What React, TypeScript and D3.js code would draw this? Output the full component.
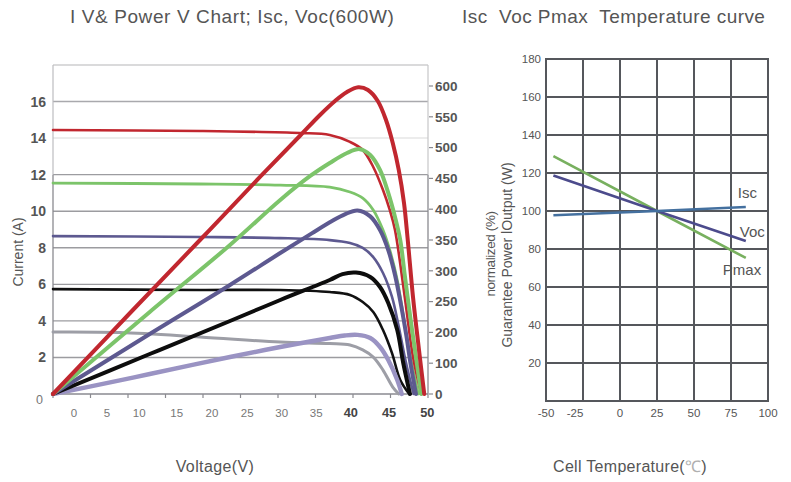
import React from 'react';
import * as d3 from 'd3';

// ---------- LEFT CHART DATA (I-V and P-V curves) ----------
const voltTicks = [0, 5, 10, 15, 20, 25, 30, 35, 40, 45, 50];
// where each voltage tick label sits (in volts)
const voltLabelAt = [2.8, 7.2, 11.5, 16.5, 21.2, 25.9, 30.5, 35.1, 39.7, 44.8, 49.9];
const boldVoltLabels = [40, 45, 50];
const currentTicks = [2, 4, 6, 8, 10, 12, 14, 16];
const powerTickLabels = ['0', '100', '200', '250', '300', '350', '400', '450', '500', '550', '600'];

type P = [number, number];

// [voltage V, current A]
const redIV: P[] = [[0, 14.44], [19.6, 14.39], [32.9, 14.28], [36.9, 14.17], [39.6, 13.79], [41.3, 13.35], [42.7, 12.42], [44.0, 11.16], [44.9, 10.07], [45.6, 8.97], [46.9, 5.31], [48.0, 2.02], [49.1, 0]];
const greenIV: P[] = [[0, 11.54], [19.6, 11.49], [30.3, 11.43], [36.9, 11.32], [39.6, 11.05], [41.3, 10.72], [42.7, 10.07], [44.0, 8.97], [44.9, 7.88], [45.9, 6.24], [46.8, 4.05], [47.6, 2.13], [48.7, 0]];
const purpleIV: P[] = [[0, 8.64], [19.6, 8.59], [30.3, 8.53], [36.9, 8.42], [39.6, 8.26], [41.3, 7.99], [42.7, 7.49], [44.0, 6.62], [45.2, 5.31], [46.0, 3.88], [46.9, 2.02], [47.6, 0.77], [48.1, 0]];
const blackIV: P[] = [[0, 5.74], [19.6, 5.69], [30.3, 5.69], [36.9, 5.58], [39.6, 5.42], [41.3, 5.03], [42.7, 4.49], [44.0, 3.5], [45.2, 2.24], [46.3, 0.77], [47.5, 0]];
const grayIV: P[] = [[0, 3.39], [8.9, 3.36], [19.6, 3.12], [30.3, 2.84], [36.9, 2.76], [39.6, 2.68], [41.3, 2.41], [42.7, 2.02], [44.0, 1.31], [45.3, 0.38], [46.1, 0]];

// [voltage V, power W]
const redPV: P[] = [[0, 0], [10.27, 157.8], [19.6, 300], [27.6, 422.8], [32.9, 502.6], [35.6, 543.5], [37.6, 570.8], [39.2, 588.3], [40.7, 597.5], [42.0, 592.2], [43.3, 570.8], [44.4, 533.8], [45.3, 489.0], [46.1, 436.4], [46.8, 372.1], [47.3, 300.0], [48.0, 189.0], [48.8, 85.7], [49.5, 0]];
const greenPV: P[] = [[0, 0], [12.9, 159.8], [23.6, 290.3], [30.3, 378.0], [34.3, 424.7], [36.9, 450.0], [39.2, 469.5], [40.9, 477.0], [42.3, 465.6], [43.6, 436.4], [44.7, 391.6], [45.6, 344.8], [46.3, 300.0], [46.9, 231.8], [47.6, 153.9], [48.3, 81.8], [49.1, 0]];
const purplePV: P[] = [[0, 0], [12.9, 116.9], [23.6, 212.4], [30.3, 274.7], [34.5, 313], [37.2, 337], [38.9, 350], [40.6, 357.5], [42.3, 346], [43.6, 319.5], [44.7, 280.5], [45.6, 231.8], [46.4, 173.4], [47.1, 114.9], [47.7, 56.5], [48.4, 0]];
const blackPV: P[] = [[0, 0], [12.9, 77.9], [23.6, 142.2], [30.3, 183.1], [36.9, 222.1], [38.6, 233.5], [40.4, 236.5], [42.3, 227.9], [43.6, 208.5], [44.7, 177.3], [45.9, 124.7], [46.7, 60.4], [47.6, 0]];
const lightPV: P[] = [[0, 0], [8.9, 26.5], [12.9, 39.0], [23.6, 72.1], [30.3, 91.6], [36.9, 109.1], [38.9, 114.0], [40.6, 115.2], [42.3, 109.1], [43.6, 91.6], [44.7, 66.2], [45.9, 27.3], [46.5, 0]];

// ---------- RIGHT CHART DATA (temperature curves) ----------
const tempTicks = [-50, -25, 0, 25, 50, 75, 100];
const tempLabelAt = [-50, -30.4, 0, 25, 50, 75, 100];
const normTicks = [20, 40, 60, 80, 100, 120, 140, 160, 180];
const normGrid = [0, 20, 40, 60, 80, 100, 120, 140, 160, 180];
const temps = [-45, 25, 85];
const iscVals = [97.8, 100, 102.1];
const vocVals = [118.7, 100, 84.2];
const pmaxVals = [128.9, 100, 75.3];

const FONT = "'Liberation Sans', Arial, Helvetica, sans-serif";

export default function App() {
  // left scales
  const xV = d3.scaleLinear().domain([0, 50]).range([53, 428]);
  const yI = d3.scaleLinear().domain([0, 18]).range([394, 65]);
  const yP = d3.scaleLinear().domain([0, 600]).range([394, 86]);
  const yPLabel = d3.scalePoint<string>().domain(powerTickLabels).range([394, 86]);

  const curve = d3.curveCatmullRom.alpha(0.5);
  const lineIV = d3.line<P>().x(d => xV(d[0])).y(d => yI(d[1])).curve(curve);
  const linePV = d3.line<P>().x(d => xV(d[0])).y(d => yP(d[1])).curve(curve);

  const ivSeries = [
    { pts: grayIV, color: '#9d9ea6', w: 3 },
    { pts: blackIV, color: '#111111', w: 2.6 },
    { pts: purpleIV, color: '#5d5990', w: 2.6 },
    { pts: greenIV, color: '#7cc46a', w: 2.8 },
    { pts: redIV, color: '#c1272f', w: 2.6 },
  ];
  const pvSeries = [
    { pts: lightPV, color: '#9a93c3', w: 4.4 },
    { pts: blackPV, color: '#0d0d0d', w: 4 },
    { pts: purplePV, color: '#5d5990', w: 4 },
    { pts: greenPV, color: '#7cc46a', w: 4 },
    { pts: redPV, color: '#c1272f', w: 4 },
  ];

  // right scales
  const xT = d3.scaleLinear().domain([-50, 100]).range([546, 768]);
  const yN = d3.scaleLinear().domain([0, 180]).range([401, 59]);
  const tLine = d3.line<[number, number]>().x(d => xT(d[0])).y(d => yN(d[1]));
  const tSeries = [
    { vals: pmaxVals, color: '#78b05f', name: 'Pmax', dx: -23, dy: 17 },
    { vals: vocVals, color: '#4c4b8c', name: 'Voc', dx: -6, dy: -4 },
    { vals: iscVals, color: '#44709f', name: 'Isc', dx: -8, dy: -9 },
  ];

  const y12 = yI(12);

  return (
    <svg width={791} height={482} style={{ position: 'absolute', left: 0, top: 0, background: '#fff' }} fontFamily={FONT}>
      <rect x={0} y={0} width={791} height={482} fill="#fff" />
      {/* ---------- LEFT CHART ---------- */}
      <text x={70} y={23} fontSize={19} fill="#555" letterSpacing={0.6} style={{ whiteSpace: 'pre' }}>I V&amp; Power V Chart; Isc, Voc(600W)</text>

      {/* grid lines */}
      {currentTicks.map(t => (
        <line key={'g' + t} x1={xV(0)} x2={xV(50)} y1={yI(t)} y2={yI(t)}
          stroke={t === 14 ? '#ececec' : t === 16 ? '#a9a9ad' : '#9c9ca0'} strokeWidth={t === 14 ? 2 : 1.4} />
      ))}
      {/* frame */}
      <line x1={xV(0)} x2={xV(50)} y1={yI(18)} y2={yI(18)} stroke="#b5b5b8" strokeWidth={1.2} />
      <line x1={xV(0)} x2={xV(0)} y1={yI(18)} y2={y12} stroke="#bdbdc0" strokeWidth={1.2} />
      <line x1={xV(0)} x2={xV(0)} y1={y12} y2={yI(0)} stroke="#8a8a90" strokeWidth={1.3} />
      <line x1={xV(50)} x2={xV(50)} y1={yI(18)} y2={y12} stroke="#c6c6c8" strokeWidth={1.2} />
      <line x1={xV(50)} x2={xV(50)} y1={y12} y2={yI(0)} stroke="#8a8a90" strokeWidth={1.3} />
      <line x1={xV(0)} x2={xV(50)} y1={yI(0)} y2={yI(0)} stroke="#8a8a90" strokeWidth={1.3} />
      {voltTicks.map(v => (
        <line key={'xt' + v} x1={xV(v)} x2={xV(v)} y1={yI(0)} y2={yI(0) + 4} stroke="#8a8a90" strokeWidth={1.2} />
      ))}
      {powerTickLabels.map(l => (
        <line key={'pt' + l} x1={xV(50) + 1} x2={xV(50) + 5} y1={yPLabel(l)!} y2={yPLabel(l)!} stroke="#8a8a90" strokeWidth={1.2} />
      ))}

      {/* curves */}
      {ivSeries.map((s, i) => (
        <path key={'iv' + i} d={lineIV(s.pts)!} fill="none" stroke={s.color} strokeWidth={s.w} strokeLinecap="round" />
      ))}
      {pvSeries.map((s, i) => (
        <path key={'pv' + i} d={linePV(s.pts)!} fill="none" stroke={s.color} strokeWidth={s.w} strokeLinecap="round" />
      ))}

      {/* left axis labels */}
      {currentTicks.map(t => (
        <text key={'yl' + t} x={46} y={yI(t)} dy="0.36em" textAnchor="end" fontSize={14} fontWeight="bold" fill="#555">{t}</text>
      ))}
      <text x={43} y={yI(0)} dy="0.8em" textAnchor="end" fontSize={12.5} fill="#777">0</text>
      {/* right axis labels */}
      {powerTickLabels.map(l => (
        <text key={'pl' + l} x={435} y={yPLabel(l)!} dy="0.36em" fontSize={13.5} fontWeight="bold" fill="#555">{l}</text>
      ))}
      {/* bottom labels */}
      {voltTicks.map((v, i) => {
        const bold = boldVoltLabels.includes(v);
        return (
          <text key={'xl' + v} x={xV(voltLabelAt[i])} y={417} textAnchor="middle"
            fontSize={bold ? 12.8 : 11.5} fontWeight={bold ? 'bold' : 'normal'} fill={bold ? '#444' : '#777'}>{v}</text>
        );
      })}
      <text transform="translate(23,252) rotate(-90)" textAnchor="middle" fontSize={14} fill="#555">Current (A)</text>
      <text x={215} y={472} textAnchor="middle" fontSize={16} fill="#555" letterSpacing={0.4}>Voltage(V)</text>

      {/* ---------- RIGHT CHART ---------- */}
      <text x={462} y={23} fontSize={19} fill="#555" letterSpacing={0.45} style={{ whiteSpace: 'pre' }}>{'Isc  Voc Pmax  Temperature curve'}</text>
      {normGrid.map(n => (
        <line key={'ng' + n} x1={xT(-50) - 1} x2={xT(100) + 1} y1={yN(n)} y2={yN(n)} stroke="#55575c" strokeWidth={2} />
      ))}
      {tempTicks.map(t => (
        <line key={'tg' + t} x1={xT(t)} x2={xT(t)} y1={yN(180)} y2={yN(0)} stroke="#55575c" strokeWidth={2} />
      ))}
      {tSeries.map(s => (
        <path key={s.name} d={tLine(temps.map((t, i) => [t, s.vals[i]] as [number, number]))!} fill="none" stroke={s.color} strokeWidth={2.6} />
      ))}
      {tSeries.map(s => {
        const n = temps.length - 1;
        return (
          <text key={'lab' + s.name} x={xT(temps[n]) + s.dx} y={yN(s.vals[n]) + s.dy} fontSize={15} fill="#555">{s.name}</text>
        );
      })}
      {normTicks.map(n => (
        <text key={'nl' + n} x={541} y={yN(n)} dy="0.36em" textAnchor="end" fontSize={11.5} fill="#555">{n}</text>
      ))}
      {tempTicks.map((t, i) => (
        <text key={'tl' + t} x={xT(tempLabelAt[i])} y={417} textAnchor="middle" fontSize={11.5} fill="#555">{t}</text>
      ))}
      <text transform="translate(495,254) rotate(-90)" textAnchor="middle" fontSize={13.5} letterSpacing={-0.4} fill="#555">normalized (%)</text>
      <text transform="translate(512,255) rotate(-90)" textAnchor="middle" fontSize={14} fill="#555">Guarantee Power lOutput (W)</text>
      <text x={630} y={472} textAnchor="middle" fontSize={16} fill="#555" letterSpacing={0.3}>
        Cell Temperature(<tspan fill="#b0b0b0">℃</tspan>)
      </text>
    </svg>
  );
}
